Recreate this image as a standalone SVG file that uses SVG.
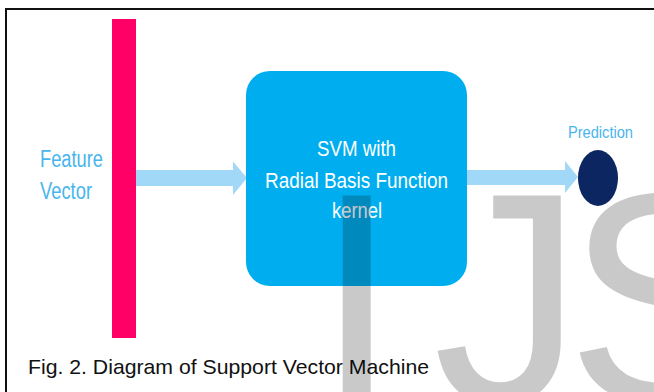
<svg xmlns="http://www.w3.org/2000/svg" width="654" height="392" viewBox="0 0 654 392">
  <style>
    .lbl { font-family: "Liberation Sans", Arial, sans-serif; }
    .blue { fill: #48b5ee; }
    .white { fill: #ffffff; }
    .arrow { fill: #a2d8f7; }
    .wm { font-family: "Liberation Sans", Arial, sans-serif; font-size: 300px; fill: #000; fill-opacity: 0.21; }
  </style>
  <rect x="0" y="0" width="654" height="392" fill="#ffffff"/>
  <rect x="6" y="9" width="660" height="400" fill="none" stroke="#111" stroke-width="2"/>

  <g id="feature-vector">
    <rect x="112" y="19" width="24" height="319" fill="#ff0066"/>
    <text class="lbl blue" x="40" y="167" font-size="23" textLength="63" lengthAdjust="spacingAndGlyphs">Feature</text>
    <text class="lbl blue" x="40" y="199" font-size="23" textLength="52" lengthAdjust="spacingAndGlyphs">Vector</text>
  </g>

  <g id="connectors">
    <polygon class="arrow" points="136,170 233,170 233,161.5 247,178 233,195 233,186 136,186"/>
    <polygon class="arrow" points="467,170 565,170 565,161 578,177 565,193 565,185 467,185"/>
  </g>

  <g id="svm">
    <rect x="246" y="71" width="221" height="215" rx="24" ry="24" fill="#00aeef"/>
    <text class="lbl white" x="317" y="156" font-size="22" textLength="79" lengthAdjust="spacingAndGlyphs">SVM with</text>
    <text class="lbl white" x="265" y="187.5" font-size="22" textLength="183" lengthAdjust="spacingAndGlyphs">Radial Basis Function</text>
    <text class="lbl white" x="332" y="218" font-size="22" textLength="50" lengthAdjust="spacingAndGlyphs">kernel</text>
  </g>

  <g id="prediction">
    <text class="lbl blue" x="568" y="138" font-size="16" textLength="65" lengthAdjust="spacingAndGlyphs">Prediction</text>
    <ellipse cx="598" cy="178" rx="20" ry="28" fill="#0c2662"/>
  </g>

  <text class="lbl" x="28" y="374" font-size="21" fill="#111" textLength="401" lengthAdjust="spacingAndGlyphs">Fig. 2. Diagram of Support Vector Machine</text>

  <text class="wm" y="402"><tspan x="315">I</tspan><tspan x="433">J</tspan><tspan x="566">S</tspan></text>
</svg>
